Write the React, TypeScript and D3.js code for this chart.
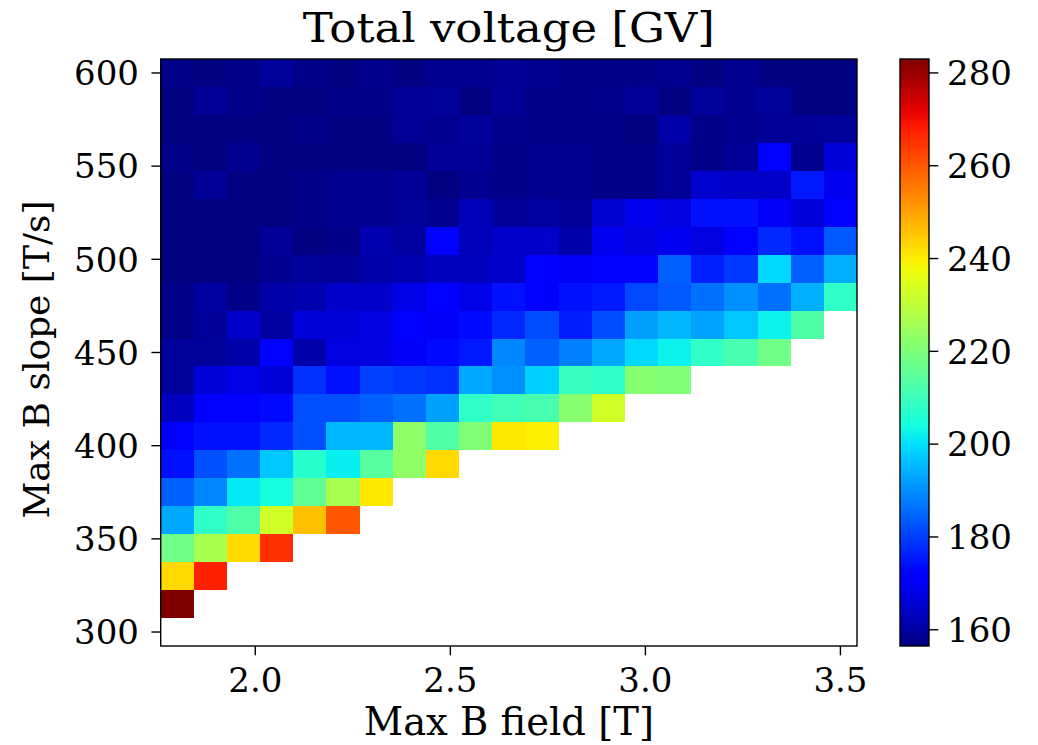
import React from 'react';
import * as d3 from 'd3';

// Max B field [T] (column centres)
const bField = [1.8, 1.885, 1.97, 2.055, 2.14, 2.225, 2.31, 2.395, 2.48, 2.565, 2.65,
  2.735, 2.82, 2.905, 2.99, 3.075, 3.16, 3.245, 3.33, 3.415, 3.5];

// Max B slope [T/s] (row centres)
const bSlope = [300, 315, 330, 345, 360, 375, 390, 405, 420, 435, 450,
  465, 480, 495, 510, 525, 540, 555, 570, 585, 600];

// Total voltage [GV], one row per slope; rows stop where the scan has no solution
const voltage = [
  [],
  [283],
  [242.6, 267.3],
  [218.0, 226.6, 242.6, 265.2],
  [193.2, 208.1, 213.0, 232.8, 245.9, 259.9],
  [184.2, 189.1, 201.1, 204.4, 215.6, 226.6, 240.5],
  [174.3, 182.2, 186.2, 197.1, 207.0, 202.0, 214.3, 222.9, 242.6],
  [171, 174.3, 174.3, 177.3, 182.2, 195.1, 195.1, 222.9, 213.0, 220.5, 240.5, 239.5],
  [163.5, 171, 171, 173.3, 182.2, 182.2, 184.2, 186.2, 192.2, 208.1, 210.6, 211.8, 221.7, 232.8],
  [159.6, 166.2, 167.9, 166.2, 178.3, 174.3, 180.3, 179.3, 178.3, 193.2, 190.1, 198.1, 209.4, 208.1, 221.7, 220.5],
  [159.6, 159.6, 160.9, 171, 160.9, 167.0, 167.0, 169.7, 173.3, 175.3, 189.1, 184.2, 188.1, 193.2, 199.1, 202.5, 208.1, 211.8, 218.0],
  [157.4, 159.2, 164.4, 160.0, 166.2, 166.2, 167.0, 171, 169.7, 173.3, 177.3, 181.8, 175.8, 181.8, 192.2, 195.1, 192.7, 197.1, 202.5, 213.0],
  [157.4, 160.0, 157.4, 160.9, 161.8, 164.4, 164.4, 167.9, 171, 167.9, 174.3, 171, 174.3, 175.3, 181.3, 183.2, 186.2, 190.1, 186.2, 194.2, 208.1],
  [156.6, 156.6, 156.6, 158.3, 159.6, 159.2, 160.9, 161.8, 163.5, 163.5, 164.4, 171, 169.7, 171, 171, 184.2, 176.3, 179.3, 199.1, 184.2, 194.2],
  [156.6, 156.6, 156.6, 159.2, 156.6, 157.4, 161.8, 160.0, 171, 162.7, 164.4, 164.4, 160.9, 168.8, 167.0, 168.8, 167.0, 171, 177.3, 174.3, 183.2],
  [156.6, 156.6, 156.6, 156.6, 157.4, 158.3, 158.3, 159.6, 158.3, 162.7, 159.2, 160.0, 159.2, 165.2, 168.8, 167.0, 174.3, 174.3, 169.7, 166.2, 171],
  [156.6, 159.2, 156.6, 156.6, 157.4, 158.3, 158.3, 159.2, 156.5, 158.3, 157.4, 158.3, 158.3, 157.4, 157.4, 159.2, 165.2, 164.4, 164.4, 175.3, 168.8],
  [157.4, 156.6, 158.3, 156.6, 156.6, 156.6, 156.6, 156.6, 159.2, 159.2, 157.4, 158.3, 158.3, 157.4, 157.4, 159.2, 157.4, 159.2, 171, 158.3, 166.2],
  [156.6, 156.6, 156.6, 156.6, 157.4, 156.6, 156.6, 159.2, 158.3, 159.6, 157.9, 157.4, 157.4, 157.4, 156.6, 160.9, 157.4, 158.3, 159.2, 159.2, 159.6],
  [156.6, 159.2, 157.4, 156.6, 156.6, 157.4, 157.4, 159.2, 159.6, 156.6, 159.2, 157.4, 157.4, 157.9, 159.2, 156.6, 159.6, 158.3, 159.6, 156.5, 156.5],
  [157.4, 156.5, 157.4, 159.6, 157.4, 156.6, 157.9, 156.5, 158.3, 158.3, 158.8, 158.3, 157.4, 157.4, 157.4, 158.3, 156.5, 158.3, 156.6, 156.6, 156.6],
];

const xTicks = [2.0, 2.5, 3.0, 3.5];
const yTicks = [300, 350, 400, 450, 500, 550, 600];
const cbarTicks = [160, 180, 200, 220, 240, 260, 280];

// matplotlib "jet" segment data
const jetR = d3.scaleLinear<number>().domain([0, 0.35, 0.66, 0.89, 1]).range([0, 0, 1, 1, 0.5]).clamp(true);
const jetG = d3.scaleLinear<number>().domain([0, 0.125, 0.375, 0.64, 0.91, 1]).range([0, 0, 1, 1, 0, 0]).clamp(true);
const jetB = d3.scaleLinear<number>().domain([0, 0.11, 0.34, 0.65, 1]).range([0.5, 1, 1, 0, 0]).clamp(true);
const jet = (t: number) =>
  d3.rgb(Math.round(jetR(t) * 255), Math.round(jetG(t) * 255), Math.round(jetB(t) * 255)).formatHex();

const FONT = '"DejaVu Serif", serif';

export default function App() {
  const width = 1038;
  const height = 745;
  const plot = { left: 160.7, right: 857, top: 59, bottom: 646 };
  const cbar = { left: 900, right: 929 };
  const tickLen = 9.3;
  const midX = (plot.left + plot.right) / 2;

  const dx = bField[1] - bField[0];
  const dy = bSlope[1] - bSlope[0];

  const x = d3.scaleLinear()
    .domain([bField[0] - dx / 2, bField[bField.length - 1] + dx / 2])
    .range([plot.left, plot.right]);
  const y = d3.scaleLinear()
    .domain([bSlope[0] - dy / 2, bSlope[bSlope.length - 1] + dy / 2])
    .range([plot.bottom, plot.top]);

  const all = voltage.flat();
  const vMin = d3.min(all) as number;
  const vMax = d3.max(all) as number;
  const norm = d3.scaleLinear().domain([vMin, vMax]).range([0, 1]);
  const cy = d3.scaleLinear().domain([vMin, vMax]).range([plot.bottom, plot.top]);

  const cells: { key: string; x0: number; x1: number; y0: number; y1: number; fill: string }[] = [];
  voltage.forEach((row, k) => {
    row.forEach((v, i) => {
      cells.push({
        key: `${k}-${i}`,
        x0: x(bField[i] - dx / 2),
        x1: x(bField[i] + dx / 2),
        y0: y(bSlope[k] + dy / 2),
        y1: y(bSlope[k] - dy / 2),
        fill: jet(norm(v)),
      });
    });
  });

  const stops = d3.range(0, 65).map((s) => s / 64);
  const fmtX = d3.format('.1f');

  return (
    <svg
      width={width}
      height={height}
      style={{ position: 'absolute', left: 0, top: 0, background: '#fff' }}
      fontFamily={FONT}
    >
      <defs>
        <linearGradient id="jet-grad" x1="0" y1="1" x2="0" y2="0">
          {stops.map((t) => (
            <stop key={t} offset={t} stopColor={jet(t)} />
          ))}
        </linearGradient>
      </defs>

      <text
        x={midX}
        y={42}
        fontSize={41}
        textAnchor="middle"
        textLength={412}
        lengthAdjust="spacingAndGlyphs"
        fill="#000"
      >
        Total voltage [GV]
      </text>

      {/* heatmap cells */}
      <g shapeRendering="crispEdges">
        {cells.map((c) => (
          <rect key={c.key} x={c.x0} y={c.y0} width={c.x1 - c.x0} height={c.y1 - c.y0} fill={c.fill} />
        ))}
      </g>

      <rect
        x={plot.left}
        y={plot.top}
        width={plot.right - plot.left}
        height={plot.bottom - plot.top}
        fill="none"
        stroke="#000"
        strokeWidth={1.4}
      />

      {/* x axis */}
      {xTicks.map((t) => (
        <g key={t}>
          <line x1={x(t)} x2={x(t)} y1={plot.bottom} y2={plot.bottom + tickLen} stroke="#000" strokeWidth={1.4} />
          <text x={x(t)} y={692} fontSize={34} textAnchor="middle" fill="#000">
            {fmtX(t)}
          </text>
        </g>
      ))}
      <text x={midX} y={735} fontSize={38.5} textAnchor="middle" fill="#000">
        Max B field [T]
      </text>

      {/* y axis */}
      {yTicks.map((t) => (
        <g key={t}>
          <line x1={plot.left - tickLen} x2={plot.left} y1={y(t)} y2={y(t)} stroke="#000" strokeWidth={1.4} />
          <text x={139} y={y(t)} dy="0.36em" fontSize={34} textAnchor="end" fill="#000">
            {t}
          </text>
        </g>
      ))}
      <text
        transform={`translate(49,${(plot.top + plot.bottom) / 2 + 7}) rotate(-90)`}
        fontSize={36}
        textAnchor="middle"
        fill="#000"
      >
        Max B slope [T/s]
      </text>

      {/* colorbar */}
      <rect
        x={cbar.left}
        y={plot.top}
        width={cbar.right - cbar.left}
        height={plot.bottom - plot.top}
        fill="url(#jet-grad)"
        stroke="#000"
        strokeWidth={1.4}
      />
      {cbarTicks.map((t) => (
        <g key={t}>
          <line x1={cbar.right} x2={cbar.right + tickLen} y1={cy(t)} y2={cy(t)} stroke="#000" strokeWidth={1.4} />
          <text x={947} y={cy(t)} dy="0.36em" fontSize={34} textAnchor="start" fill="#000">
            {t}
          </text>
        </g>
      ))}
    </svg>
  );
}
